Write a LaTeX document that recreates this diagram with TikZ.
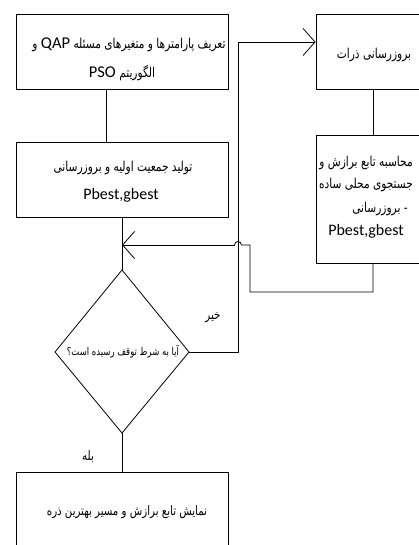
\documentclass[tikz,border=0pt]{standalone}
\usepackage{fontspec}
\setmainfont{Carlito}
\newfontfamily\arabicfont[Script=Arabic,FakeStretch=0.78]{DejaVu Sans}
\TeXXeTstate=1
\usetikzlibrary{arrows.meta}
\newcommand{\ar}[1]{{\arabicfont\beginR #1\endR}}
\newcommand{\lt}[1]{\beginL{\rmfamily\fontsize{16.5}{20}\selectfont #1}\endL}
\begin{document}
\begin{tikzpicture}[x=1pt,y=-1pt,
  box/.style={draw=black,line width=0.8pt,inner sep=0pt},
  txt/.style={inner sep=0pt,align=center,font=\fontsize{13.6}{24}\selectfont},
  small/.style={inner sep=0pt,font=\fontsize{13.1}{15}\selectfont},
  latin/.style={inner sep=0pt,font=\fontsize{16}{20}\selectfont},
  conn/.style={draw=black,line width=0.8pt},
  arr/.style={conn,-{Straight Barb[length=12pt,width=27pt,line width=0.8pt]}}]
\useasboundingbox (0,0) rectangle (419,545);
\clip (0,0) rectangle (419,545);
% boxes
\node[box,minimum width=212pt,minimum height=75pt] (b1) at (122,51.5) {};
\node[box,minimum width=212pt,minimum height=75pt] (b2) at (122,179.5) {};
\node[box,minimum width=212pt,minimum height=100pt] (b5) at (122,522) {};
\node[box,minimum width=114pt,minimum height=75pt] (b3) at (373,51.5) {};
\node[box,minimum width=114pt,minimum height=128pt] (b4) at (373,199) {};
% diamond corners
\coordinate (dt) at (122,270);
\coordinate (dl) at (55,352);
\coordinate (dr) at (189,352);
\coordinate (db) at (122,433);
\draw[conn] (dt) -- (dr) -- (db) -- (dl) -- cycle;
% texts
\node[txt] (t1a) at (129,45) {\ar{تعریف پارامترها و متغیرهای مسئله \lt{QAP} و}};
\node[txt] (t1b) at (122,73) {\ar{الگوریتم \lt{PSO}}};
\node[txt] (t2a) at (123,168) {\ar{تولید جمعیت اولیه و بروزرسانی}};
\node[latin] (t2b) at (121,195) {Pbest,gbest};
\node[txt] (t3) at (374,55) {\ar{بروزرسانی ذرات}};
\node[txt] (t4a) at (366,163) {\ar{محاسبه تابع برازش و}};
\node[txt] (t4b) at (366,185) {\ar{جستجوی محلی ساده}};
\node[txt] (t4c) at (380,209) {\ar{- بروزرسانی}};
\node[latin] (t4d) at (366,231) {Pbest,gbest};
\node[small] (t5) at (127,512) {\ar{نمایش تابع برازش و مسیر بهترین ذره}};
\node[small] (td) at (123,352) {\fontsize{10.9}{12}\selectfont\ar{آیا به شرط توقف رسیده است؟}};
\node[small] (lno) at (213,318) {\ar{خیر}};
\node[small] (lyes) at (88,456) {\ar{بله}};
% connectors
\coordinate (c1) at (106,0);
\draw[conn] (b1.south -| c1) -- (b2.north -| c1);
\draw[conn] (b2.south) -- (dt);
\draw[conn] (db) -- (b5.north);
\coordinate (rx) at (373,0);
\draw[conn] (b3.south -| rx) -- (b4.north -| rx);
\coordinate (up) at (238,42);
\draw[arr] (dr) -- (238,352) -- (up) -- (b3.west |- up);
\coordinate (lp1) at (373,292);
\coordinate (lp2) at (250,292);
\coordinate (lp3) at (250,245);
\coordinate (hopR) at (241.5,245);
\coordinate (hopL) at (234.5,245);
\draw[conn] (b4.south -| rx) -- (lp1) -- (lp2) -- (lp3) -- (hopR) arc[start angle=0,end angle=-180,radius=3.5];
\draw[arr] (hopL) -- (b2.south |- lp3);
\end{tikzpicture}
\end{document}
